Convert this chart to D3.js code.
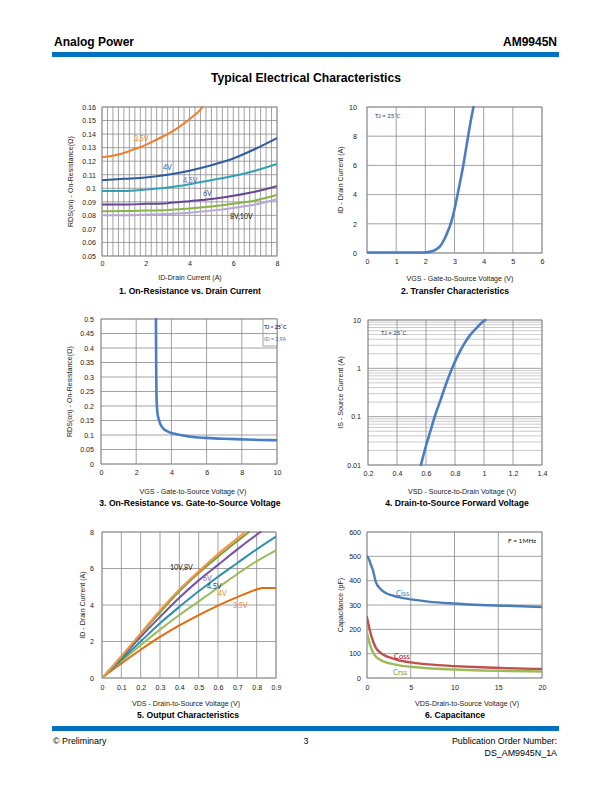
<!DOCTYPE html>
<html><head><meta charset="utf-8">
<script src="https://cdn.jsdelivr.net/npm/d3@7"></script>
<style>
body{margin:0;background:#fff}
svg{display:block}
text{font-family:Arial,"Liberation Sans",sans-serif}
.lbl{font-family:Lato,"Open Sans",sans-serif}
</style>
</head><body>
<svg id="page" width="612" height="792"></svg>
<script>
// ---------- Chart 1: On-Resistance vs Drain Current ----------
const c1Names = ["3.5V","4V","4.5V","6V","8V","10V"];
const c1Colors = ["#ED7D31","#2F5C9E","#31A0B8","#6A4494","#8AB347","#B5A6D3"];
const c1X_35 = [0,0.5,1,1.5,2,2.5,3,3.5,4,4.5,4.6];
const c1Y_35 = [0.123,0.124,0.126,0.129,0.132,0.136,0.140,0.145,0.151,0.158,0.160];
const c1X = [0,1,2,3,4,5,6,7,8];
const c1Y_4  = [0.106,0.107,0.108,0.110,0.113,0.117,0.122,0.129,0.137];
const c1Y_45 = [0.098,0.098,0.099,0.1005,0.103,0.106,0.109,0.113,0.118];
const c1Y_6  = [0.088,0.088,0.0885,0.089,0.0905,0.092,0.0945,0.0975,0.1015];
const c1Y_8  = [0.083,0.0832,0.0835,0.084,0.085,0.0865,0.0885,0.091,0.095];
const c1Y_10 = [0.080,0.080,0.0805,0.081,0.082,0.0835,0.0855,0.088,0.092];
const c1YTicks = [0.05,0.06,0.07,0.08,0.09,0.1,0.11,0.12,0.13,0.14,0.15,0.16];
const c1XTicks = [0,2,4,6,8];

// ---------- Chart 2: Transfer Characteristics ----------
const c2X = [0,1,1.9,2.1,2.3,2.5,2.7,2.9,3.0,3.1,3.2,3.3,3.4,3.5,3.6,3.65];
const c2Y = [0.03,0.03,0.03,0.06,0.17,0.45,1.15,2.2,3.0,3.95,4.95,6.0,7.2,8.4,9.5,10];
const c2XTicks = [0,1,2,3,4,5,6];
const c2YTicks = [0,2,4,6,8,10];

// ---------- Chart 3: On-Resistance vs Gate-to-Source Voltage ----------
const c3X = [3.12,3.13,3.14,3.16,3.2,3.3,3.5,3.8,4.2,5,6,7,8,9,10];
const c3Y = [0.5,0.4,0.3,0.22,0.18,0.15,0.125,0.112,0.104,0.095,0.09,0.087,0.085,0.083,0.082];
const c3XTicks = [0,2,4,6,8,10];
const c3YTicks = [0,0.05,0.1,0.15,0.2,0.25,0.3,0.35,0.4,0.45,0.5];

// ---------- Chart 4: Drain-to-Source Forward Voltage ----------
const c4X = [0.565,0.6,0.63,0.66,0.7,0.74,0.78,0.82,0.86,0.9,0.95,1.0,1.01];
const c4Y = [0.01,0.025,0.05,0.1,0.22,0.49,1.0,1.85,3.1,4.7,6.9,9.6,10];
const c4XTicks = [0.2,0.4,0.6,0.8,1,1.2,1.4];
const c4YTicks = [0.01,0.1,1,10];

// ---------- Chart 5: Output Characteristics ----------
const c5Names = ["10V","8V","6V","4.5V","4V","3.5V"];
const c5Colors = ["#F79646","#77A03C","#7A52A0","#2E8FAA","#9BBB59","#E46C0A"];
const c5X_10 = [0.01,0.1,0.2,0.3,0.4,0.5,0.6,0.7,0.74];
const c5Y_10 = [0.1,1.2,2.45,3.7,4.85,5.85,6.8,7.65,8];
const c5X_8  = [0.01,0.1,0.2,0.3,0.4,0.5,0.6,0.7,0.76];
const c5Y_8  = [0.1,1.15,2.4,3.6,4.75,5.75,6.65,7.5,8];
const c5X_6  = [0.01,0.1,0.2,0.3,0.4,0.5,0.6,0.7,0.8,0.82];
const c5Y_6  = [0.1,1.1,2.25,3.35,4.4,5.35,6.2,7.05,7.85,8];
const c5X_45 = [0.01,0.1,0.2,0.3,0.4,0.5,0.6,0.7,0.8,0.9];
const c5Y_45 = [0.1,1.0,2.0,3.0,3.9,4.75,5.55,6.3,7.05,7.75];
const c5X_4  = [0.01,0.1,0.2,0.3,0.4,0.5,0.6,0.7,0.8,0.9];
const c5Y_4  = [0.1,0.92,1.8,2.65,3.45,4.2,4.95,5.7,6.4,7.0];
const c5X_35 = [0.01,0.1,0.2,0.3,0.4,0.5,0.6,0.7,0.8,0.83,0.9];
const c5Y_35 = [0.1,0.8,1.55,2.25,2.88,3.45,3.97,4.43,4.85,4.93,4.93];
const c5XTicks = [0,0.1,0.2,0.3,0.4,0.5,0.6,0.7,0.8,0.9];
const c5YTicks = [0,2,4,6,8];

// ---------- Chart 6: Capacitance ----------
const c6Names = ["Ciss","Coss","Crss"];
const c6Colors = ["#4A7EBB","#C0504D","#9BBB59"];
const c6X = [0,0.2,0.4,0.7,1,1.5,2,3,4,5,7,10,13,16,20];
const c6Ciss = [500,490,470,440,395,368,352,338,329,323,314,306,300,297,292];
const c6Coss = [250,215,185,150,125,105,93,80,70,64,56,49,44,40,37];
const c6Crss = [185,155,130,105,88,75,66,57,50,46,40,35,31,29,27];
const c6XTicks = [0,5,10,15,20];
const c6YTicks = [0,100,200,300,400,500,600];

const zip = (xs, ys) => xs.map((v,i)=>[v, ys[i]]);

const svg = d3.select("#page");
svg.append("rect").attr("width",612).attr("height",792).attr("fill","#fff");

// Header
svg.append("text").attr("x",54).attr("y",46).attr("font-size",12).attr("font-weight","bold").text("Analog Power");
svg.append("text").attr("x",557).attr("y",46).attr("text-anchor","end").attr("font-size",12).attr("font-weight","bold").text("AM9945N");
svg.append("rect").attr("x",52).attr("y",52).attr("width",507).attr("height",5).attr("fill","#0070C0");
svg.append("text").attr("x",306).attr("y",82).attr("text-anchor","middle").attr("font-size",12.2).attr("font-weight","bold").text("Typical Electrical Characteristics");

// Footer
svg.append("rect").attr("x",52).attr("y",726).attr("width",507).attr("height",5).attr("fill","#0070C0");
svg.append("text").attr("x",53).attr("y",744).attr("font-size",8.9).text("\u00A9 Preliminary");
svg.append("text").attr("x",306).attr("y",744).attr("text-anchor","middle").attr("font-size",8.9).text("3");
svg.append("text").attr("x",557).attr("y",744).attr("text-anchor","end").attr("font-size",8.9).text("Publication Order Number:");
svg.append("text").attr("x",557).attr("y",756).attr("text-anchor","end").attr("font-size",8.9).text("DS_AM9945N_1A");

const GRID = "#8a8a8a";
const TFS = 7.1;

function chart(o){
  const g = svg.append("g");
  const x = d3.scaleLinear().domain(o.xd).range([o.l,o.r]);
  const y = (o.log ? d3.scaleLog() : d3.scaleLinear()).domain(o.yd).range([o.b,o.t]);
  (o.yMinor||[]).forEach(v=>{
    g.append("line").attr("x1",o.l).attr("x2",o.r).attr("y1",y(v)).attr("y2",y(v))
     .attr("stroke","#a8a8a8").attr("stroke-width",0.6);
  });
  (o.xGrid||[]).forEach(v=>{
    g.append("line").attr("x1",x(v)).attr("x2",x(v)).attr("y1",o.t).attr("y2",o.b)
     .attr("stroke",GRID).attr("stroke-width",0.8);
  });
  (o.yGrid||[]).forEach(v=>{
    g.append("line").attr("x1",o.l).attr("x2",o.r).attr("y1",y(v)).attr("y2",y(v))
     .attr("stroke",GRID).attr("stroke-width",0.8);
  });
  g.append("rect").attr("x",o.l).attr("y",o.t).attr("width",o.r-o.l).attr("height",o.b-o.t)
   .attr("fill","none").attr("stroke",GRID).attr("stroke-width",0.8);

  const xa = g.append("g").attr("transform",`translate(0,${o.b})`)
    .call(d3.axisBottom(x).tickValues(o.xt).tickFormat(o.xf||(d=>d)).tickSize(0).tickPadding(o.xpad||6));
  const ya = g.append("g").attr("transform",`translate(${o.l},0)`)
    .call(d3.axisLeft(y).tickValues(o.yt).tickFormat(o.yf||(d=>d)).tickSize(0).tickPadding(o.ypad||7));
  [xa,ya].forEach(a=>{a.select(".domain").remove();
    a.selectAll("text").attr("font-size",TFS).attr("fill","#222").attr("font-family","Arial, 'Liberation Sans', sans-serif");});

  g.append("text").attr("x",o.xtx).attr("y",o.xty).attr("text-anchor","middle").attr("font-size",TFS).attr("fill","#222").text(o.xTitle);
  g.append("text").attr("transform",`translate(${o.ytx},${(o.t+o.b)/2}) rotate(-90)`).attr("text-anchor","middle").attr("font-size",TFS).attr("fill","#222").text(o.yTitle);
  g.append("text").attr("x",o.cx).attr("y",o.cy).attr("text-anchor","middle").attr("font-size",8.6).attr("font-weight","bold").text(o.caption);

  const clipId = "clip"+Math.random().toString(36).slice(2);
  g.append("clipPath").attr("id",clipId).append("rect").attr("x",o.l).attr("y",o.t-2).attr("width",o.r-o.l).attr("height",o.b-o.t+4);
  const line = d3.line().x(d=>x(d[0])).y(d=>y(d[1])).curve(d3.curveMonotoneX);
  o.series.forEach(s=>{
    g.append("path").attr("d",line(s.data)).attr("fill","none").attr("stroke",s.color)
     .attr("stroke-width",s.w||2.2).attr("stroke-linejoin","round").attr("stroke-linecap","round")
     .attr("clip-path",`url(#${clipId})`);
  });
  (o.labels||[]).forEach(t=>{
    g.append("text").attr("class","lbl").attr("x",t.x).attr("y",t.y).attr("font-size",t.fs||7)
     .attr("fill",t.c).attr("font-weight",t.bw||"normal").text(t.s);
  });
  return {g,x,y};
}

// Chart 1
const c1x32 = d3.range(0,8.001,0.25);
chart({l:102,r:277,t:107,b:256,xd:[0,8],yd:[0.05,0.16],
  xGrid:c1x32, yGrid:c1YTicks, xt:c1XTicks, yt:c1YTicks, yf:d=>String(+d.toFixed(2)),
  xpad:5, ypad:6,
  xTitle:"ID-Drain Current (A)", xtx:190, xty:280, yTitle:"RDS(on) - On-Resistance(\u2126)", ytx:73,
  caption:"1. On-Resistance vs. Drain Current", cx:190, cy:294,
  series:[
    {data:zip(c1X_35,c1Y_35),color:c1Colors[0],w:2},
    {data:zip(c1X,c1Y_4),color:c1Colors[1],w:2},
    {data:zip(c1X,c1Y_45),color:c1Colors[2],w:2},
    {data:zip(c1X,c1Y_6),color:c1Colors[3],w:2},
    {data:zip(c1X,c1Y_8),color:c1Colors[4],w:2},
    {data:zip(c1X,c1Y_10),color:c1Colors[5],w:2}
  ],
  labels:[
    {s:c1Names[0],x:134,y:140.5,c:"#ED7D31"},
    {s:c1Names[1],x:163,y:169.5,c:"#2F5C9E"},
    {s:c1Names[2],x:183,y:182.5,c:"#7B5AA6"},
    {s:c1Names[3],x:203,y:195.5,c:"#3A4C8E"},
    {s:c1Names[4]+","+c1Names[5],x:230,y:218.5,c:"#111"}
  ]
});

// Chart 2
chart({l:367,r:542,t:107,b:253,xd:[0,6],yd:[0,10],
  xGrid:c2XTicks, yGrid:c2YTicks, xt:c2XTicks, yt:c2YTicks, xpad:6, ypad:10,
  xTitle:"VGS - Gate-to-Source Voltage (V)", xtx:460, xty:281, yTitle:"ID - Drain Current (A)", ytx:343,
  caption:"2. Transfer Characteristics", cx:455, cy:294,
  series:[{data:zip(c2X,c2Y),color:"#4A7EC4",w:2.6}],
  labels:[{s:"TJ = 25\u02DAC",x:375,y:118,c:"#1F3864",fs:6}]
});

// Chart 3
const c3 = chart({l:101,r:277,t:319,b:464,xd:[0,10],yd:[0,0.5],
  xGrid:c3XTicks, yGrid:c3YTicks, xt:c3XTicks, yt:c3YTicks, yf:d=>String(+d.toFixed(2)), xpad:6, ypad:7,
  xTitle:"VGS - Gate-to-Source Voltage (V)", xtx:193, xty:494, yTitle:"RDS(on) - On-Resistance(\u2126)", ytx:72,
  caption:"3. On-Resistance vs. Gate-to-Source Voltage", cx:190, cy:506,
  series:[{data:zip(c3X,c3Y),color:"#4A7EC4",w:2.6}],
  labels:[]
});
c3.g.append("rect").attr("x",263).attr("y",319).attr("width",14).attr("height",27).attr("fill","#fff").attr("stroke",GRID).attr("stroke-width",0.8);
c3.g.append("line").attr("x1",263).attr("x2",277).attr("y1",c3.y(0.45)).attr("y2",c3.y(0.45)).attr("stroke",GRID).attr("stroke-width",0.8);
c3.g.append("text").attr("class","lbl").attr("x",264.3).attr("y",329).attr("font-size",5.2).attr("font-weight","bold").attr("fill","#1F3864").text("TJ = 25\u02DAC");
c3.g.append("text").attr("class","lbl").attr("x",264.3).attr("y",341).attr("font-size",5.2).attr("fill","#4A6FA5").text("ID = 2.9A");

// Chart 4
const c4Minor = [];
[0.01,0.1,1].forEach(d=>{for(let k=2;k<=9;k++) c4Minor.push(d*k);});
chart({l:368,r:542,t:320,b:465,xd:[0.2,1.4],yd:[0.01,10],log:true,
  xGrid:c4XTicks, yGrid:c4YTicks, yMinor:c4Minor, xt:c4XTicks, yt:c4YTicks, yf:d=>String(d), xpad:6, ypad:7,
  xTitle:"VSD - Source-to-Drain Voltage (V)", xtx:462, xty:494, yTitle:"IS - Source Current (A)", ytx:343,
  caption:"4. Drain-to-Source Forward Voltage", cx:457, cy:506,
  series:[{data:zip(c4X,c4Y),color:"#4A7EC4",w:2.6}],
  labels:[{s:"TJ = 25\u02DAC",x:381,y:335,c:"#1F3864",fs:6}]
});

// Chart 5
chart({l:102,r:276,t:532,b:678,xd:[0,0.9],yd:[0,8],
  xGrid:c5XTicks, yGrid:c5YTicks, xt:c5XTicks, yt:c5YTicks, xpad:7, ypad:8,
  xTitle:"VDS - Drain-to-Source Voltage (V)", xtx:186, xty:706, yTitle:"ID - Drain Current (A)", ytx:85,
  caption:"5. Output Characteristics", cx:188, cy:718,
  series:[
    {data:zip(c5X_35,c5Y_35),color:c5Colors[5],w:2},
    {data:zip(c5X_4,c5Y_4),color:c5Colors[4],w:2},
    {data:zip(c5X_45,c5Y_45),color:c5Colors[3],w:2},
    {data:zip(c5X_6,c5Y_6),color:c5Colors[2],w:2},
    {data:zip(c5X_8,c5Y_8),color:c5Colors[1],w:2},
    {data:zip(c5X_10,c5Y_10),color:c5Colors[0],w:2}
  ],
  labels:[
    {s:c5Names[0]+","+c5Names[1],x:170,y:570,c:"#111"},
    {s:c5Names[2],x:203,y:581,c:"#8B5CC0"},
    {s:c5Names[3],x:207,y:589,c:"#1F3864"},
    {s:c5Names[4],x:218,y:596,c:"#F0842C"},
    {s:c5Names[5],x:233,y:608,c:"#F0842C"}
  ]
});

// Chart 6
chart({l:367,r:542,t:532,b:678,xd:[0,20],yd:[0,600],
  xGrid:c6XTicks, yGrid:c6YTicks, xt:c6XTicks, yt:c6YTicks, xpad:7, ypad:6,
  xTitle:"VDS-Drain-to-Source Voltage (V)", xtx:467, xty:706, yTitle:"Capacitance (pF)", ytx:343,
  caption:"6. Capacitance", cx:455, cy:718,
  series:[
    {data:zip(c6X,c6Ciss),color:c6Colors[0],w:2.4},
    {data:zip(c6X,c6Coss),color:c6Colors[1],w:2.4},
    {data:zip(c6X,c6Crss),color:c6Colors[2],w:2.4}
  ],
  labels:[
    {s:c6Names[0],x:396,y:595.5,c:"#4A7EBB",fs:7.5},
    {s:c6Names[1],x:394,y:658.5,c:"#C00000",fs:7.5},
    {s:c6Names[2],x:393,y:674.5,c:"#77A03C",fs:7.5},
    {s:"F = 1MHz",x:508,y:542.5,c:"#111",fs:6.5}
  ]
});
</script>
</body></html>
